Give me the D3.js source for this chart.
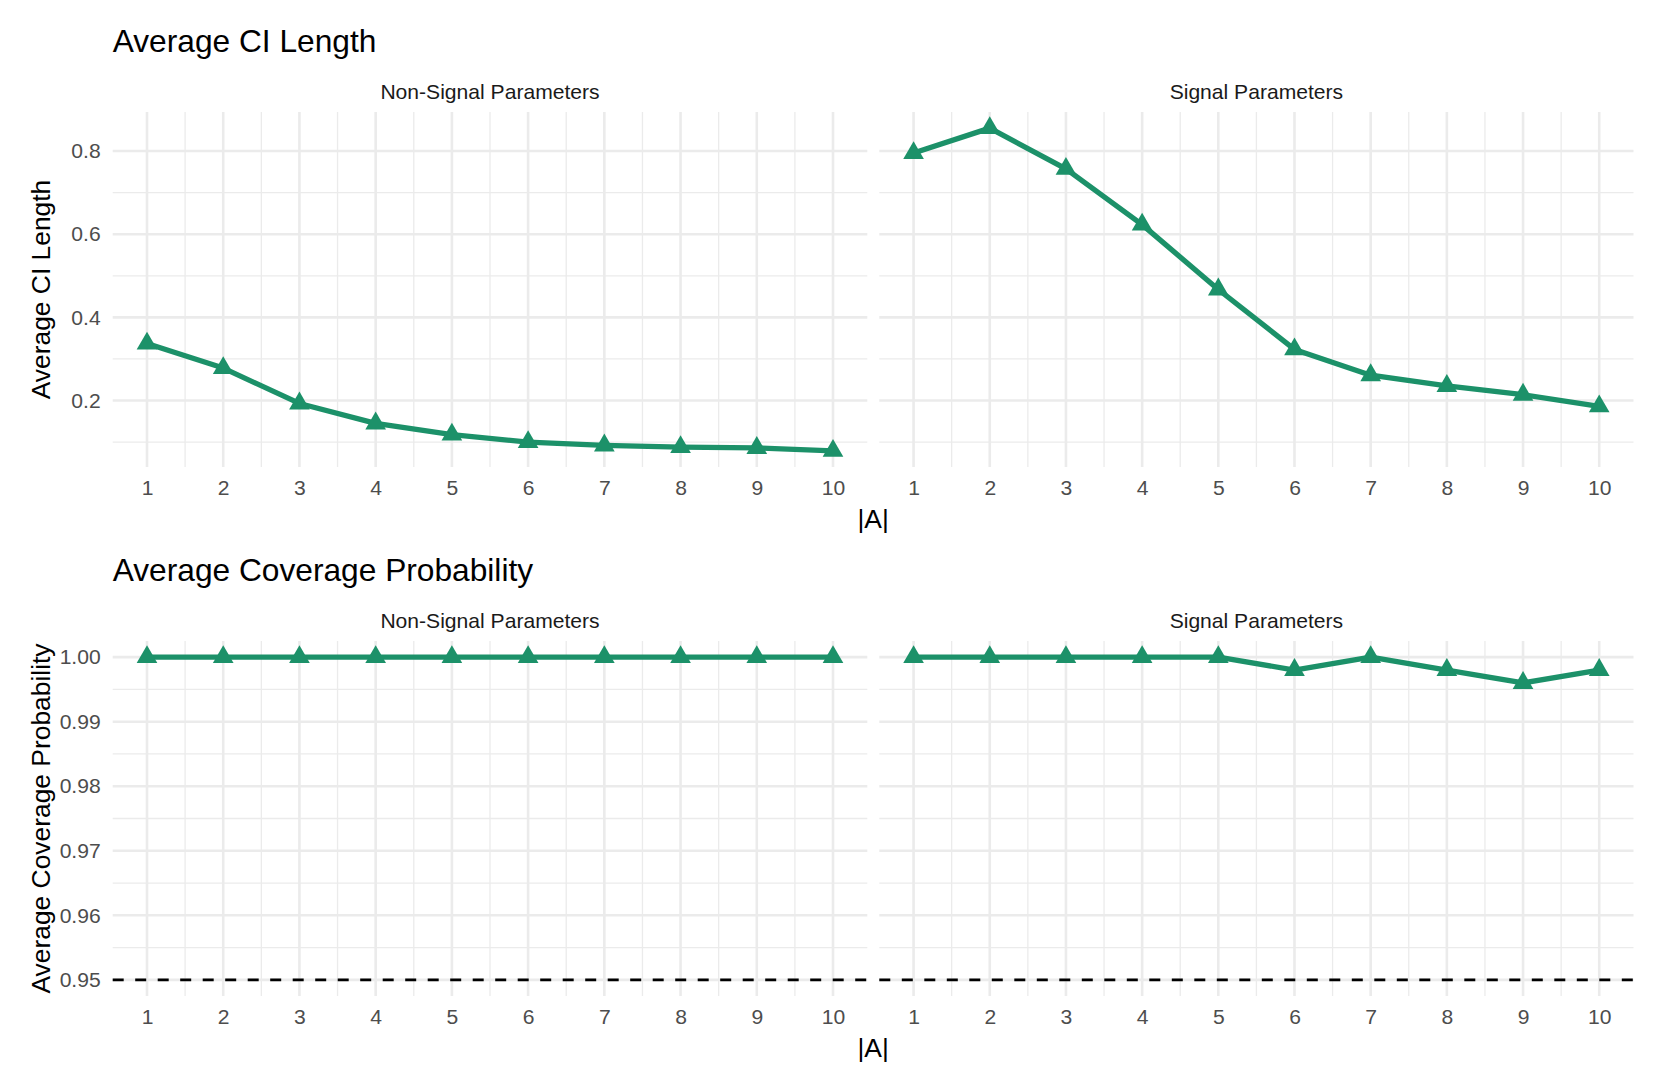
<!DOCTYPE html>
<html>
<head>
<meta charset="utf-8">
<script src="https://cdn.jsdelivr.net/npm/d3@7"></script>
<style>
    body { margin: 0; background: #ffffff; }
    svg { display: block; font-family: "Liberation Sans", Arial, Helvetica, sans-serif; }
</style>
</head>
<body>
<div id="chart"></div>
<script>
// data
var set_size = [1, 2, 3, 4, 5, 6, 7, 8, 9, 10]
var facet_names = ['Non-Signal Parameters', 'Signal Parameters']

var ci_non_signal = [0.337, 0.278, 0.193, 0.145, 0.118, 0.100, 0.092, 0.088, 0.086, 0.079]
var ci_signal     = [0.795, 0.855, 0.757, 0.623, 0.467, 0.323, 0.261, 0.235, 0.214, 0.186]

var cov_non_signal = [1, 1, 1, 1, 1, 1, 1, 1, 1, 1]
var cov_signal     = [1, 1, 1, 1, 1, 0.998, 1, 0.998, 0.996, 0.998]

var ci_ticks  = [0.2, 0.4, 0.6, 0.8]
var cov_ticks = [0.95, 0.96, 0.97, 0.98, 0.99, 1.00]
var nominal_level = 0.95

var line_color = '#1C9169'

var W = 1662, H = 1088

var svg = d3.select('#chart')
    .append('svg')
    .attr('width', W)
    .attr('height', H)

// two facet rows, same layout, second one shifted down
var row_top = [0, 529]

draw_row({
    top: row_top[0],
    title: 'Average CI Length',
    ylab: 'Average CI Length',
    series: [ci_non_signal, ci_signal],
    ticks: ci_ticks,
    fmt: d3.format('.1f'),
    hline: null
})

draw_row({
    top: row_top[1],
    title: 'Average Coverage Probability',
    ylab: 'Average Coverage Probability',
    series: [cov_non_signal, cov_signal],
    ticks: cov_ticks,
    fmt: d3.format('.2f'),
    hline: nominal_level
})

function expand(lo, hi) {
    var pad = (hi - lo) * 0.05
    return [lo - pad, hi + pad]
}

function midpoints(arr) {
    var out = []
    for (var i = 0; i < arr.length - 1; i++) out.push((arr[i] + arr[i + 1]) / 2)
    return out
}

function draw_row(o) {
    var g = svg.append('g').attr('transform', 'translate(0,' + o.top + ')')

    var panel_top = 112, panel_bottom = 467
    var panels = [[112.7, 867.3], [879.3, 1633.5]]

    // y domain like ggplot: data (+ hline) with 5% expansion
    var all = o.series[0].concat(o.series[1])
    if (o.hline != null) all.push(o.hline)
    var y = d3.scaleLinear()
        .domain(expand(d3.min(all), d3.max(all)))
        .range([panel_bottom, panel_top])

    var y_step = o.ticks[1] - o.ticks[0]
    var y_minor = midpoints([o.ticks[0] - y_step].concat(o.ticks).concat([o.ticks[o.ticks.length - 1] + y_step]))
        .filter(function (v) { return v >= y.domain()[0] && v <= y.domain()[1] })
    var x_minor = midpoints(set_size)

    // title
    g.append('text')
        .attr('x', panels[0][0])
        .attr('y', 52)
        .attr('font-size', '31.7px')
        .attr('fill', '#000')
        .text(o.title)

    // y axis title
    g.append('text')
        .attr('transform', 'translate(50,' + ((panel_top + panel_bottom) / 2) + ') rotate(-90)')
        .attr('text-anchor', 'middle')
        .attr('font-size', '26.4px')
        .attr('fill', '#000')
        .text(o.ylab)

    // x axis title, centred over both panels
    g.append('text')
        .attr('x', (panels[0][0] + panels[1][1]) / 2)
        .attr('y', 528)
        .attr('text-anchor', 'middle')
        .attr('font-size', '26.4px')
        .attr('fill', '#000')
        .text('|A|')

    panels.forEach(function (p, k) {
        var x = d3.scaleLinear()
            .domain(expand(1, 10))
            .range(p)

        var pg = g.append('g')

        // grid, minor first
        pg.selectAll('.ymin').data(y_minor).enter().append('line')
            .attr('x1', p[0]).attr('x2', p[1])
            .attr('y1', function (d) { return y(d) }).attr('y2', function (d) { return y(d) })
            .attr('stroke', '#EBEBEB').attr('stroke-width', 1.3)
        pg.selectAll('.xmin').data(x_minor).enter().append('line')
            .attr('y1', panel_top).attr('y2', panel_bottom)
            .attr('x1', function (d) { return x(d) }).attr('x2', function (d) { return x(d) })
            .attr('stroke', '#EBEBEB').attr('stroke-width', 1.3)
        pg.selectAll('.ymaj').data(o.ticks).enter().append('line')
            .attr('x1', p[0]).attr('x2', p[1])
            .attr('y1', function (d) { return y(d) }).attr('y2', function (d) { return y(d) })
            .attr('stroke', '#EBEBEB').attr('stroke-width', 2.6)
        pg.selectAll('.xmaj').data(set_size).enter().append('line')
            .attr('y1', panel_top).attr('y2', panel_bottom)
            .attr('x1', function (d) { return x(d) }).attr('x2', function (d) { return x(d) })
            .attr('stroke', '#EBEBEB').attr('stroke-width', 2.6)

        // strip label
        pg.append('text')
            .attr('x', (p[0] + p[1]) / 2)
            .attr('y', 99)
            .attr('text-anchor', 'middle')
            .attr('font-size', '21.1px')
            .attr('fill', '#1A1A1A')
            .text(facet_names[k])

        // x axis
        var xa = pg.append('g')
            .attr('transform', 'translate(0,' + panel_bottom + ')')
            .call(d3.axisBottom(x).tickValues(set_size).tickSize(0).tickPadding(13))
        xa.select('.domain').remove()
        xa.selectAll('text')
            .attr('font-size', '21.1px')
            .attr('font-family', null)
            .attr('fill', '#4D4D4D')

        // y axis only on the first panel
        if (k == 0) {
            var ya = pg.append('g')
                .attr('transform', 'translate(' + p[0] + ',0)')
                .call(d3.axisLeft(y).tickValues(o.ticks).tickFormat(o.fmt).tickSize(0).tickPadding(12))
            ya.select('.domain').remove()
            ya.selectAll('text')
                .attr('font-size', '21.1px')
                .attr('font-family', null)
                .attr('fill', '#4D4D4D')
        }

        // reference line
        if (o.hline != null) {
            pg.append('line')
                .attr('x1', p[0]).attr('x2', p[1])
                .attr('y1', y(o.hline)).attr('y2', y(o.hline))
                .attr('stroke', '#000')
                .attr('stroke-width', 2.6)
                .attr('stroke-dasharray', '11,11.5')
        }

        var vals = o.series[k]
        var line = d3.line()
            .x(function (d, i) { return x(set_size[i]) })
            .y(function (d) { return y(d) })

        pg.append('path')
            .datum(vals)
            .attr('d', line)
            .attr('fill', 'none')
            .attr('stroke', line_color)
            .attr('stroke-width', 5.3)
            .attr('stroke-linejoin', 'round')
            .attr('stroke-linecap', 'butt')

        pg.selectAll('.pt').data(vals).enter().append('path')
            .attr('transform', function (d, i) { return 'translate(' + x(set_size[i]) + ',' + y(d) + ')' })
            .attr('d', d3.symbol(d3.symbolTriangle, 185))
            .attr('fill', line_color)
    })
}
</script>
</body>
</html>
